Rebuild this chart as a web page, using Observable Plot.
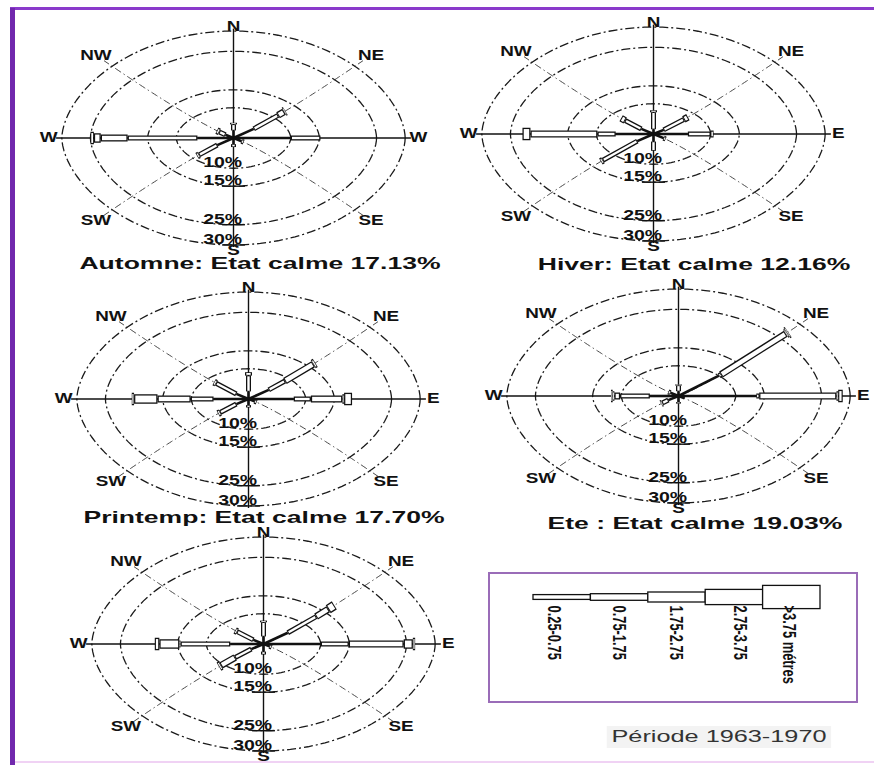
<!DOCTYPE html>
<html><head><meta charset="utf-8">
<script src="https://cdn.jsdelivr.net/npm/d3@7"></script>
<script src="https://cdn.jsdelivr.net/npm/@observablehq/plot@0.6"></script>
<style>
html,body{margin:0;padding:0;background:#fff;}
#page{position:relative;width:874px;height:765px;overflow:hidden;background:#fff;font-family:"Liberation Sans",Arial,sans-serif;}
.abs{position:absolute;}
.title{position:absolute;font-weight:bold;font-size:17px;white-space:nowrap;line-height:1;color:#111;transform:translate(-50%,-50%) scaleX(1.56);}
.period{position:absolute;font-size:16px;white-space:nowrap;line-height:1;color:#333;background:#f3f3f3;padding:3px 3px;transform:translate(-50%,-50%) scaleX(1.58);}
</style></head><body><div id="page"></div>
<script>
// ---------- DATA ----------
const directions = ["N", "NE", "E", "SE", "S", "SW", "W", "NW"];
const directionAngles = [90, 45, 0, -45, -90, -135, 180, 135];
const heightClasses = ["0.25-0.75", "0.75-1.75", "1.75-2.75", "2.75-3.75", ">3.75 métres"];
const ringValues = [10, 15, 25, 30];
const ringLabels = ["10%", "15%", "25%", "30%"];
const compassLabels = ["N", "NE", "E", "SE", "S", "SW", "W", "NW"];
const automneCompassLabels = ["N", "NE", "W", "SE", "S", "SW", "W", "NW"];
const printempCompassLabels = ["N", "NE", "E", "SE", "", "SW", "W", "NW"];
const roseTitles = [
  "Automne: Etat calme 17.13%",
  "Hiver: Etat calme 12.16%",
  "Printemp: Etat calme 17.70%",
  "Ete : Etat calme 19.03%"
];
const periodText = "Période 1963-1970";

// frequency (%) per direction (rows: N, NE, E, SE, S, SW, W, NW) per wave-height class
const automne = [
  [3, 2, 0.5, 0, 0],
  [5, 6, 1.5, 0.3, 0],
  [10, 5.2, 0, 0, 0],
  [2, 0.5, 0, 0, 0],
  [2.5, 1, 0, 0, 0],
  [4, 4.5, 0.5, 0, 0],
  [6.3, 12.2, 4.7, 1.2, 0.6],
  [2, 1.5, 0.6, 0, 0]
];
const hiver = [
  [2, 5.5, 0.6, 0, 0],
  [2.5, 5, 1, 0, 0],
  [6, 4, 0.5, 0, 0],
  [2.5, 0.5, 0, 0, 0],
  [3, 3, 0, 0, 0],
  [4, 8.5, 0.5, 0, 0],
  [6.6, 3.2, 11.7, 0, 1.4],
  [3, 4, 1, 0, 0]
];
const printemp = [
  [3, 5, 1, 0, 0],
  [5, 4, 7, 0.5, 0],
  [7.9, 3, 5.5, 0.3, 1.4],
  [1.5, 0.5, 0, 0, 0],
  [2.5, 0.8, 0, 0, 0],
  [3, 4, 0.5, 0, 0],
  [6.1, 4, 5.8, 4.1, 0.4],
  [3, 5, 0.5, 0, 0]
];
const ete = [
  [2, 2, 0.3, 0, 0],
  [10, 0.5, 16, 0.3, 0.3],
  [13.6, 0.5, 13.5, 0.3, 0.8],
  [1.5, 0, 0, 0, 0],
  [2.5, 0.5, 0, 0, 0],
  [2.5, 1.5, 0.3, 0, 0],
  [5, 5.2, 1, 0.3, 0.3],
  [2, 0.5, 0, 0, 0]
];
const annuel = [
  [3, 4.5, 0.5, 0, 0],
  [6, 7, 3, 1.5, 0],
  [10, 4.9, 9.6, 1.6, 0.4],
  [1.5, 0.5, 0, 0, 0],
  [3, 1, 0, 0, 0],
  [3, 4, 3.5, 0.5, 0],
  [5.8, 8.7, 0.2, 3.5, 0.8],
  [2.5, 4, 0.5, 0, 0]
];

// ---------- STYLE / LAYOUT ----------
const roseClassWidth = [2.6, 5, 7, 9.5, 12.5];
const legendHalfHeight = [2.4, 3.3, 5, 7.6, 11.6];
const legendLabelOffset = [0.35, 0.49, 0.47, 0.6, 0.44];
const labelRadius = [31.2, 34, 32.3, 34, 31.3, 34, 32.3, 34];
const FONT = "Liberation Sans, Arial, sans-serif";
const ROSE_W = 412, ROSE_H = 247;

const page = document.getElementById("page");

function addDiv(cls, css, text) {
  const d = document.createElement("div");
  d.className = cls;
  Object.assign(d.style, css);
  if (text != null) d.textContent = text;
  page.appendChild(d);
  return d;
}

function stretchText(svg, sel, sx, sy) {
  svg.querySelectorAll(sel).forEach(t => {
    const tr = t.getAttribute("transform") || "";
    t.setAttribute("transform", tr + ` scale(${sx},${sy})`);
  });
}

function drawRose(values, labels, cx, cy) {
  const segs = [];
  values.forEach((vals, d) => {
    const a = directionAngles[d] * Math.PI / 180;
    const ca = Math.cos(a), sa = Math.sin(a);
    let r0 = 0;
    vals.forEach((v, c) => {
      if (v > 0) {
        const r1 = r0 + v;
        const e = c === 0 ? 0 : Math.min(0.22, v / 4);
        segs.push({c,
          x1: r0 * ca, y1: r0 * sa, x2: r1 * ca, y2: r1 * sa,
          ix1: (r0 + e) * ca, iy1: (r0 + e) * sa, ix2: (r1 - e) * ca, iy2: (r1 - e) * sa});
        r0 = r1;
      }
    });
  });
  const outer = d3.max(ringValues);
  const ringPts = ringValues.flatMap(r => d3.range(0, 361, 3).map(t => ({
    r, x: r * Math.cos(t * Math.PI / 180), y: r * Math.sin(t * Math.PI / 180)})));
  const diagPts = [45, 135, 225, 315].flatMap(t => d3.range(0, outer + 2.01, 0.5).map(r => ({
    t, x: r * Math.cos(t * Math.PI / 180), y: r * Math.sin(t * Math.PI / 180)})));
  const axes = [
    {x1: 0, y1: -(outer + 0.5), x2: 0, y2: outer + 0.6},
    {x1: -(outer + 1), y1: 0, x2: outer + 1, y2: 0}
  ];
  const ticks = ringValues.slice(1).map(r => ({x1: -2, x2: 2, y: -r}));
  const compass = labels.map((l, i) => {
    const a = directionAngles[i] * Math.PI / 180;
    return {label: l, x: labelRadius[i] * Math.cos(a), y: labelRadius[i] * Math.sin(a)};
  }).filter(d => d.label);
  const pct = ringValues.map((r, i) => ({label: ringLabels[i], x: -1.9, y: -r}));

  const svg = Plot.plot({
    width: ROSE_W, height: ROSE_H,
    marginTop: 0, marginRight: 0, marginBottom: 0, marginLeft: 0,
    style: {background: "transparent", overflow: "visible", maxWidth: "none"},
    x: {domain: [-36, 36], axis: null},
    y: {type: "pow", exponent: 1.15, domain: [-34, 34], axis: null},
    marks: [
      Plot.line(ringPts, {x: "x", y: "y", z: "r", stroke: "#1a1a1a", strokeWidth: 1.3,
        strokeDasharray: "9,3,2,3", strokeLinecap: "butt"}),
      Plot.line(diagPts, {x: "x", y: "y", z: "t", stroke: "#333", strokeWidth: 0.9,
        strokeDasharray: "7,3,1.5,3", strokeLinecap: "butt"}),
      Plot.link(axes, {x1: "x1", y1: "y1", x2: "x2", y2: "y2", stroke: "#111", strokeWidth: 1.4}),
      Plot.link(ticks, {x1: "x1", x2: "x2", y1: "y", y2: "y", stroke: "#111", strokeWidth: 1.4}),
      Plot.link(segs, {x1: "x1", y1: "y1", x2: "x2", y2: "y2", stroke: "#111",
        strokeWidth: d => roseClassWidth[d.c]}),
      Plot.link(segs.filter(d => d.c > 0), {x1: "ix1", y1: "iy1", x2: "ix2", y2: "iy2", stroke: "#fff",
        strokeWidth: d => roseClassWidth[d.c] - 2.6}),
      Plot.text(compass, {x: "x", y: "y", text: "label", fontSize: 14, fontWeight: "bold",
        fontFamily: FONT, fill: "#111"}),
      Plot.text(pct, {x: "x", y: "y", text: "label", dy: -6, fontSize: 15, fontWeight: "bold",
        fontFamily: FONT, fill: "#111"})
    ]
  });
  stretchText(svg, 'g[font-size="14"] text', 1.35, 1);
  stretchText(svg, 'g[font-size="15"] text', 1.3, 1);
  const holder = addDiv("abs", {left: (cx - ROSE_W / 2) + "px", top: (cy - ROSE_H / 2) + "px",
    width: ROSE_W + "px", height: ROSE_H + "px"});
  holder.appendChild(svg);
}

// frame
addDiv("abs", {left: "10px", top: "7px", width: "864px", height: "3px", background: "#8a3acb"});
addDiv("abs", {left: "10px", top: "8px", width: "5px", height: "757px", background: "#7128ad"});
addDiv("abs", {left: "15px", top: "761px", width: "859px", height: "2px", background: "#f0d2f4"});

// roses
drawRose(automne, automneCompassLabels, 233, 137);
drawRose(hiver, compassLabels, 653, 133);
drawRose(printemp, printempCompassLabels, 248, 398);
drawRose(ete, compassLabels, 678, 395);
drawRose(annuel, compassLabels, 263, 643);

// titles
const titlePos = [[260, 263], [694, 264], [264, 517], [695, 523]];
roseTitles.forEach((t, i) => addDiv("title", {left: titlePos[i][0] + "px", top: titlePos[i][1] + "px"}, t));

// legend box
addDiv("abs", {left: "488px", top: "572px", width: "370px", height: "131px",
  border: "2px solid #9a6cb8", boxSizing: "border-box"});
const legend = Plot.plot({
  width: 370, height: 131,
  marginTop: 0, marginBottom: 0, marginLeft: 45, marginRight: 38,
  style: {background: "transparent", overflow: "visible", maxWidth: "none"},
  x: {domain: [0, heightClasses.length], axis: null},
  y: {domain: [-106, 25], axis: null},
  marks: [
    Plot.rect(heightClasses, {x1: (d, i) => i, x2: (d, i) => i + 1,
      y1: (d, i) => -legendHalfHeight[i], y2: (d, i) => legendHalfHeight[i],
      fill: "#fff", stroke: "#111", strokeWidth: 1.3}),
    Plot.text(heightClasses, {x: (d, i) => i + legendLabelOffset[i], y: -8, text: d => d,
      rotate: 90, textAnchor: "start", fontSize: 15, fontWeight: "bold",
      fontFamily: "Liberation Sans Narrow, Arial Narrow, Liberation Sans, sans-serif", fill: "#111"})
  ]
});
stretchText(legend, "text", 0.86, 1.2);
const lh = addDiv("abs", {left: "488px", top: "572px", width: "370px", height: "131px"});
lh.appendChild(legend);

addDiv("period", {left: "719px", top: "737px"}, periodText);
</script></body></html>
